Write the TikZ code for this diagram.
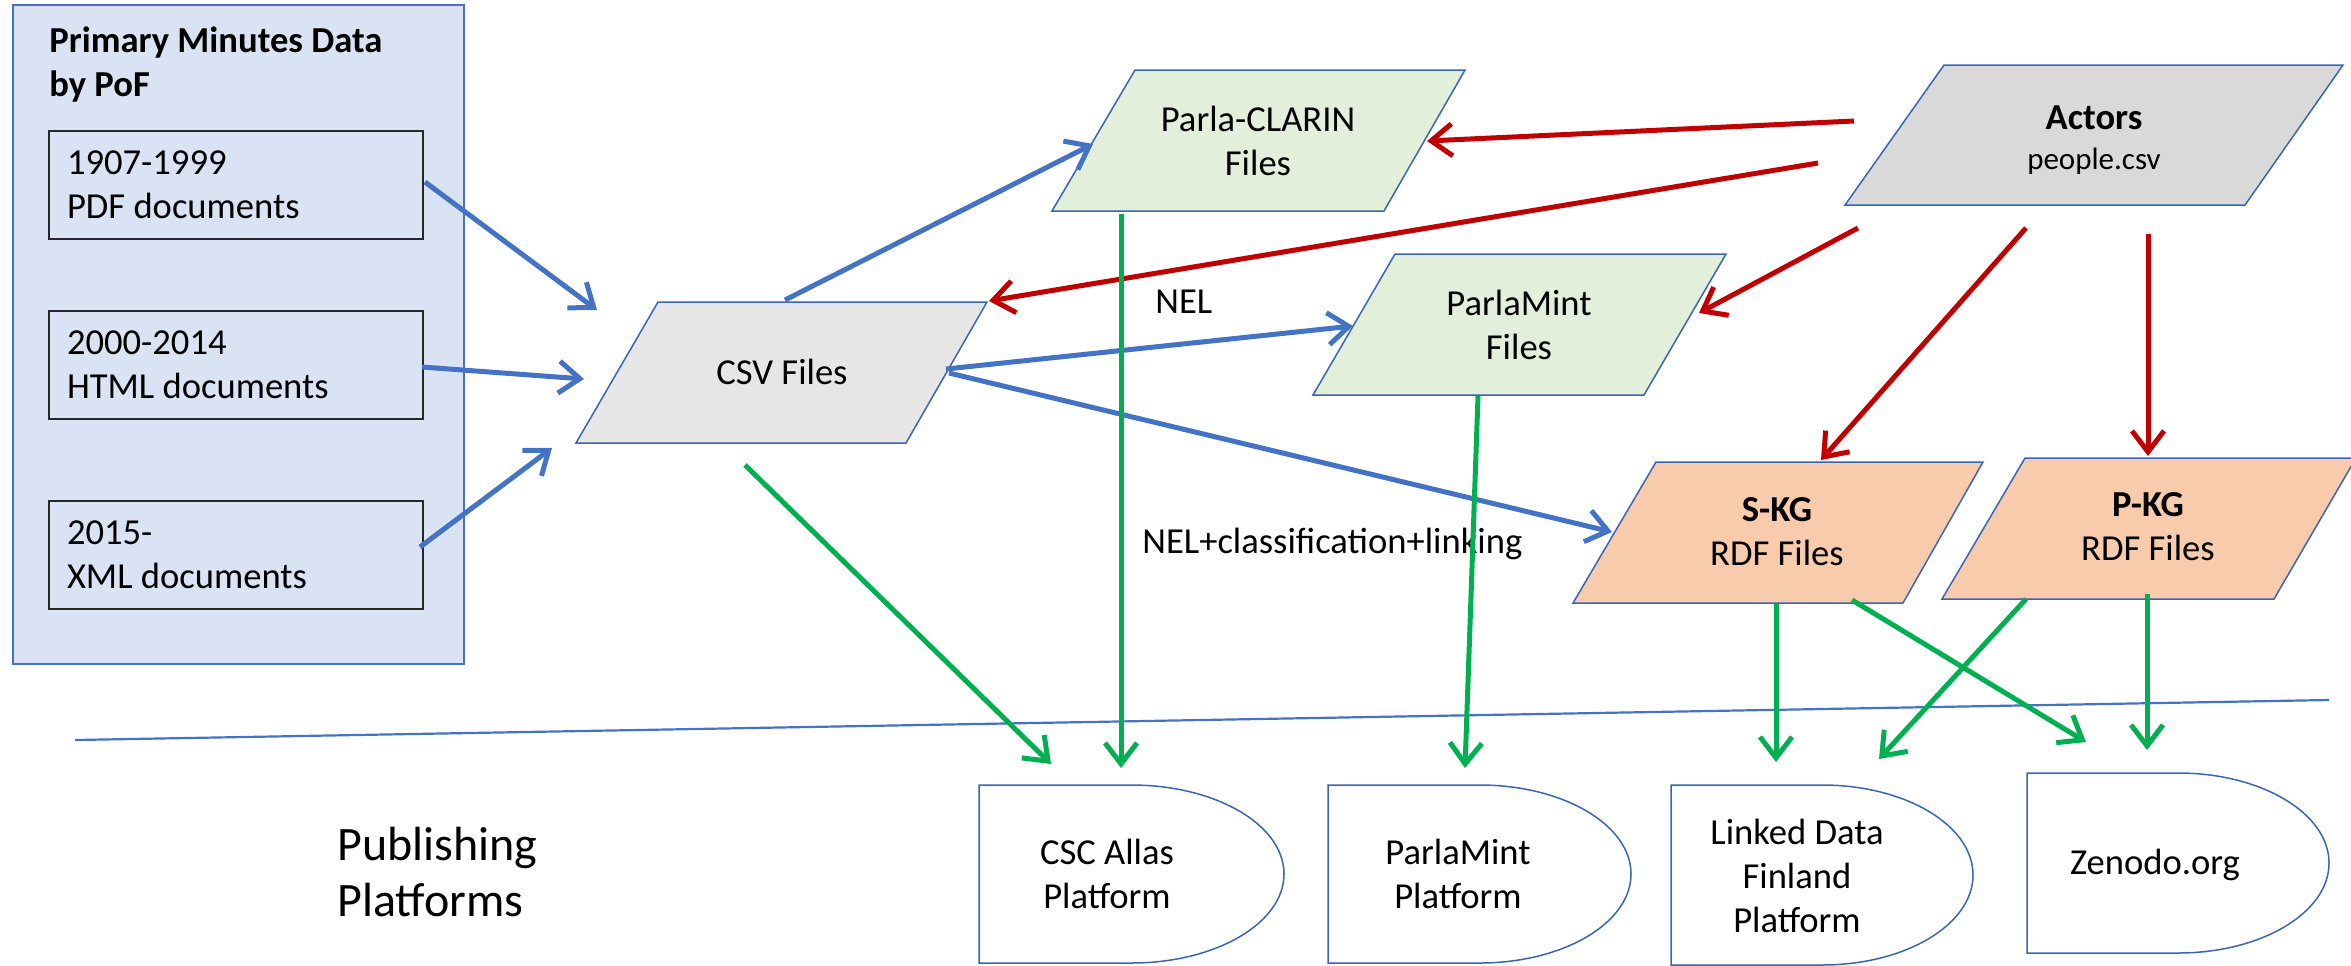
\documentclass[tikz,border=0pt]{standalone}
\usepackage{fontspec}
\setmainfont{Carlito}
\usetikzlibrary{arrows.meta}
\definecolor{bl}{HTML}{4472C4}
\definecolor{edgebl}{HTML}{3A65B0}
\definecolor{rd}{HTML}{C00000}
\definecolor{gr}{HTML}{00B050}
\definecolor{panel}{HTML}{DAE3F3}
\definecolor{csvfill}{HTML}{E7E6E6}
\definecolor{actfill}{HTML}{D9D9D9}
\definecolor{grfill}{HTML}{E2EFDA}
\definecolor{orfill}{HTML}{F8CBAD}
\newcommand\pfshape[4]{%
  \draw[plat] (#1,#2) -- ++({#3/2},0)
    arc[start angle=-90,end angle=90,x radius={#3/2},y radius={#4/2}]
    -- ++({-#3/2},0) -- cycle;}
\begin{document}
\begin{tikzpicture}[x=0.5pt,y=-0.5pt,
  txt/.style={inner sep=0pt, font=\fontsize{18.3}{22}\selectfont, align=center},
  inbox/.style={draw=black!85, line width=1.3pt, text width=169pt, inner xsep=9pt,
    inner ysep=0pt, minimum height=54pt, align=flush left, font=\fontsize{18.3}{22}\selectfont},
  pg/.style={draw=edgebl, line width=0.75pt},
  plat/.style={draw=edgebl, line width=0.75pt, fill=white},
  arr/.style={line width=2.5pt, -{Straight Barb[length=10.5pt,width=16pt]}},
  barr/.style={arr, draw=bl},
  rarr/.style={arr, draw=rd},
  garr/.style={arr, draw=gr},
]
\useasboundingbox (0,0) rectangle (2351,965);

% left panel
\node[draw=bl, line width=1pt, fill=panel, minimum width=225.5pt, minimum height=329.5pt, inner sep=0pt] (panel) at (238.5,334.5) {};
\node[txt, anchor=west, align=flush left, font=\fontsize{18.3}{22}\selectfont\bfseries] (title) at (49,65) {Primary Minutes Data\\by PoF};
\node[inbox] (b1) at (236,185) {1907-1999\\PDF documents};
\node[inbox] (b2) at (236,365) {2000-2014\\HTML documents};
\node[inbox] (b3) at (236,555) {2015-\\XML documents};

% separator
\coordinate (sepL) at (75,740);
\coordinate (sepR) at (2329,700);
\draw[bl, line width=1.1pt] (sepL) -- (sepR);

% parallelograms
\draw[pg, fill=csvfill] (658,302) -- (987,302) -- (906,443) -- (576,443) -- cycle;
\node[txt] (csv) at (782,372) {CSV Files};
\draw[pg, fill=grfill] (1135,70) -- (1465,70) -- (1384,211) -- (1052,211) -- cycle;
\node[txt] (pc) at (1258,141) {Parla-CLARIN\\Files};
\draw[pg, fill=grfill] (1395,254) -- (1726,254) -- (1644,395) -- (1313,395) -- cycle;
\node[txt] (pm) at (1519,325) {ParlaMint\\Files};
\draw[pg, fill=actfill] (1944,65) -- (2343,65) -- (2245,205) -- (1845,205) -- cycle;
\node[txt, font=\fontsize{18.3}{22}\selectfont\bfseries] (act) at (2094,118) {Actors};
\node[txt, font=\fontsize{15.5}{18}\selectfont] (actf) at (2094,161) {people.csv};
\draw[pg, fill=orfill] (1656,462) -- (1983,462) -- (1903,603) -- (1573,603) -- cycle;
\node[txt] (skg) at (1777,532) {\textbf{S-KG}\\RDF Files};
\draw[pg, fill=orfill] (2025,458) -- (2356,458) -- (2274,599) -- (1942,599) -- cycle;
\node[txt] (pkg) at (2148,527) {\textbf{P-KG}\\RDF Files};

% platforms
\pfshape{979}{785}{305}{178}
\node[txt] (csc) at (1107,874) {CSC Allas\\Platform};
\pfshape{1328}{785}{303}{178}
\node[txt] (pmp) at (1458,874) {ParlaMint\\Platform};
\pfshape{1671}{785}{302}{180}
\node[txt] (ldf) at (1797,876) {Linked Data\\Finland\\Platform};
\pfshape{2027}{773}{302}{180}
\node[txt] (zen) at (2155,865) {Zenodo.org};

\node[txt, anchor=west, align=flush left, font=\fontsize{24}{28}\selectfont] (pub) at (337,872) {Publishing\\Platforms};

% labels
\node[txt, anchor=west] (nel) at (1155,302) {NEL};
\node[txt, anchor=west] (nelc) at (1142,544) {NEL+classification+linking};

% arrow end points
\coordinate (b1o) at (425,182);  \coordinate (csvi1) at (597,310);
\coordinate (b2o) at (422,367);  \coordinate (csvi2) at (584,379);
\coordinate (b3o) at (420,547);  \coordinate (csvi3) at (552,448);
\coordinate (csvt) at (785,300); \coordinate (pci) at (1093,144);
\coordinate (csvr1) at (946,369); \coordinate (pmi) at (1353,326);
\coordinate (csvr2) at (949,373); \coordinate (ski) at (1612,532);
\coordinate (act1) at (1854,121); \coordinate (pcr) at (1427,141);
\coordinate (act2) at (1818,163); \coordinate (csvtr) at (989,301);
\coordinate (act3) at (1858,228); \coordinate (pmr) at (1699,313);
\coordinate (act4) at (2026,228); \coordinate (skt) at (1821,460);
\coordinate (act5) at (2148,234); \coordinate (pkt) at (2148,456);
\coordinate (csvb) at (745,465); \coordinate (csci1) at (1051,764);
\coordinate (pcb) at (1121,214); \coordinate (csci2) at (1121,768);
\coordinate (pmb) at (1478,396); \coordinate (pmpi) at (1465,768);
\coordinate (skb1) at (1776,604); \coordinate (ldi1) at (1776,762);
\coordinate (skb2) at (1852,600); \coordinate (zei1) at (2086,742);
\coordinate (pkb1) at (2026,599); \coordinate (ldi2) at (1879,759);
\coordinate (pkb2) at (2147,594); \coordinate (zei2) at (2147,750);

% blue
\draw[barr] (b1o) -- (csvi1);
\draw[barr] (b2o) -- (csvi2);
\draw[barr] (b3o) -- (csvi3);
\draw[barr] (csvt) -- (pci);
\draw[barr] (csvr1) -- (pmi);
\draw[barr] (csvr2) -- (ski);
% red
\draw[rarr] (act1) -- (pcr);
\draw[rarr] (act2) -- (csvtr);
\draw[rarr] (act3) -- (pmr);
\draw[rarr] (act4) -- (skt);
\draw[rarr] (act5) -- (pkt);
% green
\draw[garr] (csvb) -- (csci1);
\draw[garr] (pcb) -- (csci2);
\draw[garr] (pmb) -- (pmpi);
\draw[garr] (skb1) -- (ldi1);
\draw[garr] (skb2) -- (zei1);
\draw[garr] (pkb1) -- (ldi2);
\draw[garr] (pkb2) -- (zei2);
\end{tikzpicture}
\end{document}
